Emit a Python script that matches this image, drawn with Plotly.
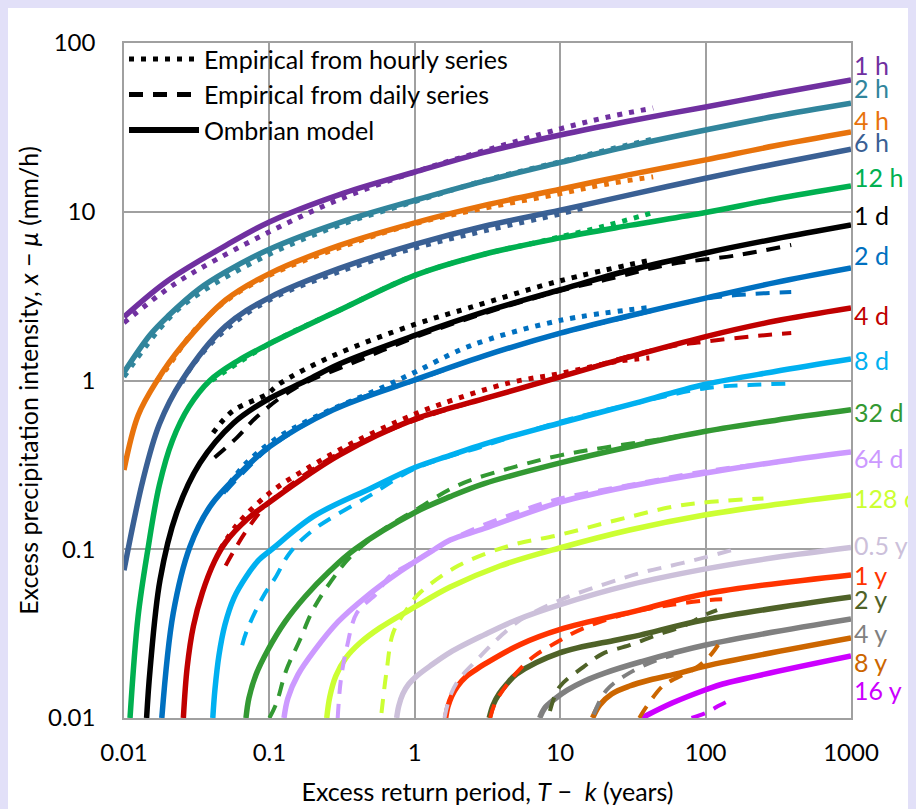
import plotly.graph_objects as go

# ---------------- data ----------------
labels = ["1 h", "2 h", "4 h", "6 h", "12 h", "1 d", "2 d", "4 d", "8 d", "32 d",
          "64 d", "128 d", "0.5 y", "1 y", "2 y", "4 y", "8 y", "16 y"]
colors = ["#7030A0", "#31859C", "#E8730C", "#3A6094", "#00B050", "#000000",
          "#0070C0", "#C00000", "#00B0F0", "#339933", "#CC99FF", "#CCFF33",
          "#CCC0DA", "#FF3300", "#4F6228", "#808080", "#CC6600", "#CC00FF"]

# Ombrian model (solid)
m_1h_x = [0.01, 0.02, 0.05, 0.1, 0.3, 1, 3, 10, 30, 100, 300, 1000]
m_1h_y = [2.38, 3.9, 6.3, 8.7, 12.6, 17.2, 22.5, 28.5, 34.5, 41.8, 50.0, 60.4]
m_2h_x = [0.01, 0.015, 0.02, 0.033, 0.05, 0.1, 0.3, 1, 3, 10, 30, 100, 300, 1000]
m_2h_y = [1.12, 1.85, 2.4, 3.5, 4.4, 6.0, 8.6, 11.7, 15.2, 19.6, 24.5, 30.5, 36.8, 44.0]
m_4h_x = [0.01, 0.0125, 0.0169, 0.025, 0.05, 0.1, 0.3, 1, 3, 10, 30, 100, 300, 1000]
m_4h_y = [0.295, 0.62, 1.0, 1.6, 3.0, 4.3, 6.3, 8.6, 10.9, 13.6, 16.6, 20.3, 24.6, 29.7]
m_6h_x = [0.01, 0.0135, 0.0175, 0.025, 0.05, 0.1, 0.3, 1, 3, 10, 30, 100, 300, 1000]
m_6h_y = [0.075, 0.257, 0.55, 1.0, 2.1, 3.1, 4.6, 6.4, 8.2, 10.2, 12.6, 15.8, 19.2, 23.5]
m_12h_x = [0.011, 0.0125, 0.0146, 0.0175, 0.0215, 0.028, 0.039, 0.06, 0.1, 0.3, 1, 3, 10, 30, 100, 300, 1000]
m_12h_y = [0.01, 0.04, 0.1, 0.24, 0.44, 0.7, 1.0, 1.3, 1.65, 2.6, 4.2, 5.6, 7.0, 8.3, 9.9, 11.9, 14.2]
m_1d_x = [0.0143, 0.0151, 0.0177, 0.023, 0.0333, 0.0565, 0.0957, 0.18, 0.3, 1, 3, 10, 30, 100, 300, 1000]
m_1d_y = [0.01, 0.0192, 0.0659, 0.164, 0.324, 0.558, 0.766, 1.0, 1.25, 1.85, 2.55, 3.45, 4.5, 5.7, 6.9, 8.35]
m_2d_x = [0.0182, 0.0218, 0.0284, 0.039, 0.0627, 0.1, 0.275, 0.973, 3, 10, 30, 100, 300, 1000]
m_2d_y = [0.01, 0.0417, 0.1035, 0.179, 0.282, 0.405, 0.67, 1.0, 1.4, 1.91, 2.42, 3.08, 3.8, 4.64]
m_4d_x = [0.0256, 0.0272, 0.03, 0.0345, 0.042, 0.05, 0.07, 0.1, 0.3, 1, 3, 10, 30, 100, 300, 1000]
m_4d_y = [0.01, 0.02, 0.035, 0.055, 0.085, 0.11, 0.15, 0.19, 0.36, 0.59, 0.78, 1.05, 1.38, 1.82, 2.25, 2.69]
m_8d_x = [0.0408, 0.0422, 0.045, 0.0494, 0.057, 0.069, 0.0847, 0.104, 0.202, 0.5, 1, 1.75, 3, 10, 30, 100, 300, 1000]
m_8d_y = [0.01, 0.0147, 0.0236, 0.0356, 0.0514, 0.0685, 0.0864, 0.1, 0.157, 0.23, 0.305, 0.36, 0.42, 0.56, 0.72, 0.95, 1.13, 1.34]
m_32d_x = [0.069, 0.0723, 0.0807, 0.0976, 0.128, 0.175, 0.26, 0.387, 1, 1.75, 3, 10, 30, 100, 300, 1000]
m_32d_y = [0.01, 0.0131, 0.018, 0.0253, 0.0371, 0.0521, 0.0743, 0.1, 0.165, 0.205, 0.245, 0.325, 0.405, 0.5, 0.58, 0.67]
m_64d_x = [0.126, 0.134, 0.157, 0.2055, 0.296, 0.46, 0.80, 1.37, 1.75, 3, 10, 30, 100, 300, 1000]
m_64d_y = [0.01, 0.0131, 0.018, 0.0253, 0.0371, 0.0521, 0.0743, 0.1, 0.1134, 0.1327, 0.19, 0.236, 0.283, 0.328, 0.377]
m_128d_x = [0.248, 0.26, 0.286, 0.336, 0.419, 0.575, 1, 1.75, 3.84, 9.9, 30, 98, 322, 1000]
m_128d_y = [0.01, 0.0133, 0.0177, 0.0227, 0.0278, 0.0342, 0.0455, 0.0597, 0.0796, 0.1017, 0.13, 0.1596, 0.1854, 0.2097]
m_05y_x = [0.75, 0.776, 0.827, 0.909, 1.03, 1.27, 1.75, 3, 5, 10, 30, 100, 300, 1000]
m_05y_y = [0.01, 0.0118, 0.0139, 0.0159, 0.0177, 0.0203, 0.0245, 0.0311, 0.0381, 0.047, 0.0615, 0.0765, 0.0893, 0.1024]
m_1y_x = [1.63, 1.686, 1.796, 1.975, 2.24, 2.63, 3.03, 5.27, 10, 35, 100, 1000]
m_1y_y = [0.01, 0.0116, 0.0135, 0.0155, 0.0175, 0.0193, 0.0209, 0.0272, 0.0335, 0.0436, 0.0545, 0.0704]
m_2y_x = [3.25, 3.45, 3.8, 4.29, 5.02, 9.9, 24.4, 35.4, 97, 1000]
m_2y_y = [0.01, 0.0119, 0.0139, 0.0159, 0.0182, 0.0243, 0.029, 0.031, 0.0381, 0.0521]
m_4y_x = [7.23, 7.83, 9.17, 11.26, 14.74, 20.2, 35.4, 100, 1000]
m_4y_y = [0.01, 0.01146, 0.01296, 0.01466, 0.01657, 0.01846, 0.02147, 0.0271, 0.0386]
m_8y_x = [16.7, 18.7, 22.6, 30.0, 41.2, 66.3, 100, 1000]
m_8y_y = [0.01, 0.01194, 0.01388, 0.01547, 0.01679, 0.01846, 0.0203, 0.0298]
m_16y_x = [36.3, 59.3, 100, 131, 1000]
m_16y_y = [0.01, 0.0123, 0.0147, 0.0159, 0.0233]

# Empirical from hourly series (dotted)
h_1h_x = [0.01, 0.02, 0.0333, 0.1, 0.3, 1, 3, 10, 20, 43.6]
h_1h_y = [2.2, 3.5, 4.6, 7.6, 11.8, 17.2, 23.0, 31.0, 36.0, 41.2]
h_2h_x = [0.01, 0.02, 0.0333, 0.1, 0.3, 1, 3, 10, 20, 43.6]
h_2h_y = [1.05, 2.3, 3.3, 5.6, 8.3, 11.5, 15.3, 19.8, 23.0, 27.0]
h_4h_x = [0.0169, 0.02, 0.03, 0.05, 0.1, 0.3, 1, 3, 10, 20, 43.6]
h_4h_y = [1.0, 1.2, 1.95, 2.95, 4.2, 6.1, 8.5, 10.5, 12.8, 14.5, 16.1]
h_6h_x = [0.025, 0.03, 0.05, 0.1, 0.3, 1, 3, 10, 15]
h_6h_y = [0.97, 1.25, 2.0, 3.0, 4.4, 6.1, 7.7, 9.7, 10.6]
h_12h_x = [0.04, 0.1, 0.3, 1, 3, 7, 10, 20, 43.6]
h_12h_y = [1.0, 1.65, 2.6, 4.2, 5.6, 6.6, 7.1, 8.2, 9.9]
h_1d_x = [0.041, 0.056, 0.096, 0.118, 0.273, 1, 2.38, 10, 43.6]
h_1d_y = [0.49, 0.66, 0.83, 0.96, 1.4, 2.15, 2.7, 3.9, 5.2]
h_2d_x = [0.048, 0.066, 0.106, 0.2, 0.55, 1, 2.38, 10, 40]
h_2d_y = [0.215, 0.31, 0.44, 0.6, 0.88, 1.12, 1.6, 2.27, 2.7]
h_4d_x = [0.046, 0.06, 0.1, 0.18, 0.36, 0.79, 1.48, 4.5, 10, 25, 41]
h_4d_y = [0.1, 0.14, 0.215, 0.3, 0.42, 0.58, 0.72, 0.97, 1.1, 1.3, 1.36]

# Empirical from daily series (dashed)
d_1d_x = [0.042, 0.06, 0.082, 0.15, 0.4, 1, 3, 10, 24.6, 56, 160, 388]
d_1d_y = [0.35, 0.46, 0.61, 0.9, 1.3, 1.8, 2.5, 3.4, 4.1, 4.87, 5.5, 6.35]
d_2d_x = [0.05, 0.07, 0.1, 0.3, 1, 3, 10, 30, 100, 200, 388]
d_2d_y = [0.22, 0.3, 0.4, 0.7, 1.0, 1.4, 1.9, 2.4, 3.05, 3.25, 3.34]
d_4d_x = [0.05, 0.07, 0.1, 0.3, 1, 3, 10, 30, 60, 100, 200, 388]
d_4d_y = [0.08, 0.13, 0.19, 0.37, 0.58, 0.78, 1.05, 1.4, 1.6, 1.7, 1.82, 1.91]
d_8d_x = [0.065, 0.07, 0.09, 0.11, 0.138, 0.2, 0.5, 1, 3, 10, 30, 100, 200, 388]
d_8d_y = [0.027, 0.033, 0.052, 0.068, 0.095, 0.13, 0.21, 0.3, 0.41, 0.57, 0.72, 0.9, 0.94, 0.96]
d_32d_x = [0.1, 0.112, 0.13, 0.162, 0.2, 0.26, 0.36, 0.6, 1, 2, 5, 10, 20, 50, 100, 200, 388]
d_32d_y = [0.01, 0.0123, 0.019, 0.029, 0.044, 0.063, 0.09, 0.13, 0.17, 0.24, 0.31, 0.36, 0.4, 0.45, 0.5, 0.55, 0.6]
d_64d_x = [0.295, 0.31, 0.34, 0.4, 0.55, 0.67, 1, 2, 5, 10, 30, 100, 388]
d_64d_y = [0.01, 0.0168, 0.026, 0.042, 0.055, 0.069, 0.085, 0.12, 0.165, 0.2, 0.24, 0.29, 0.335]
d_128d_x = [0.59, 0.64, 0.71, 0.88, 1.08, 2, 4.5, 10, 24.6, 70, 250]
d_128d_y = [0.0107, 0.019, 0.032, 0.044, 0.055, 0.08, 0.105, 0.122, 0.149, 0.183, 0.2]
d_05y_x = [1.6, 1.75, 2.0, 2.66, 3.8, 5.3, 10, 20, 37, 70, 160]
d_05y_y = [0.01, 0.0135, 0.0168, 0.022, 0.03, 0.038, 0.05, 0.062, 0.073, 0.083, 0.1]
d_1y_x = [3.3, 3.6, 5, 6.5, 9.4, 14.4, 30, 60, 107, 130]
d_1y_y = [0.01, 0.0125, 0.0185, 0.023, 0.028, 0.034, 0.042, 0.047, 0.05, 0.0505]
d_2y_x = [8.5, 9.9, 14.4, 19.5, 30, 46, 70, 100, 120]
d_2y_y = [0.011, 0.0153, 0.02, 0.024, 0.027, 0.031, 0.035, 0.041, 0.0436]
d_4y_x = [17, 20.8, 30, 46, 60]
d_4y_y = [0.0105, 0.0146, 0.0185, 0.022, 0.0235]
d_8y_x = [35, 39, 50, 57, 87, 110, 125]
d_8y_y = [0.01, 0.0116, 0.0153, 0.0165, 0.02, 0.024, 0.028]
d_16y_x = [80, 100, 125, 140]
d_16y_y = [0.01, 0.0107, 0.0119, 0.0125]

# label vertical positions at the right edge (log10 of y)
label_logy = [1.870, 1.733, 1.544, 1.413, 1.206, 0.981, 0.744, 0.388, 0.121, -0.187,
              -0.459, -0.696, -0.975, -1.153, -1.295, -1.496, -1.668, -1.834]

tick_vals = [0.01, 0.1, 1, 10, 100, 1000]
tick_text = ["0.01", "0.1", "1", "10", "100", "1000"]

# ---------------- figure ----------------
model = [(m_1h_x, m_1h_y), (m_2h_x, m_2h_y), (m_4h_x, m_4h_y), (m_6h_x, m_6h_y),
         (m_12h_x, m_12h_y), (m_1d_x, m_1d_y), (m_2d_x, m_2d_y), (m_4d_x, m_4d_y),
         (m_8d_x, m_8d_y), (m_32d_x, m_32d_y), (m_64d_x, m_64d_y), (m_128d_x, m_128d_y),
         (m_05y_x, m_05y_y), (m_1y_x, m_1y_y), (m_2y_x, m_2y_y), (m_4y_x, m_4y_y),
         (m_8y_x, m_8y_y), (m_16y_x, m_16y_y)]
hourly = {0: (h_1h_x, h_1h_y), 1: (h_2h_x, h_2h_y), 2: (h_4h_x, h_4h_y), 3: (h_6h_x, h_6h_y),
          4: (h_12h_x, h_12h_y), 5: (h_1d_x, h_1d_y), 6: (h_2d_x, h_2d_y), 7: (h_4d_x, h_4d_y)}
daily = {5: (d_1d_x, d_1d_y), 6: (d_2d_x, d_2d_y), 7: (d_4d_x, d_4d_y), 8: (d_8d_x, d_8d_y),
         9: (d_32d_x, d_32d_y), 10: (d_64d_x, d_64d_y), 11: (d_128d_x, d_128d_y),
         12: (d_05y_x, d_05y_y), 13: (d_1y_x, d_1y_y), 14: (d_2y_x, d_2y_y),
         15: (d_4y_x, d_4y_y), 16: (d_8y_x, d_8y_y), 17: (d_16y_x, d_16y_y)}

FONT = "Lato, 'Open Sans', sans-serif"
DOT = "5px,7px"
DASH = "14px,10px"
fig = go.Figure()

for i, (xs, ys) in enumerate(model):
    fig.add_trace(go.Scatter(x=xs, y=ys, mode="lines", showlegend=False, hoverinfo="skip",
                             line=dict(color=colors[i], width=5.5, shape="spline", smoothing=1.0)))
for i, (xs, ys) in daily.items():
    fig.add_trace(go.Scatter(x=xs, y=ys, mode="lines", showlegend=False, hoverinfo="skip",
                             line=dict(color=colors[i], width=4, dash=DASH,
                                       shape="spline", smoothing=1.0)))
for i, (xs, ys) in hourly.items():
    fig.add_trace(go.Scatter(x=xs, y=ys, mode="lines", showlegend=False, hoverinfo="skip",
                             line=dict(color=colors[i], width=5, dash=DOT,
                                       shape="spline", smoothing=1.0)))

# legend entries
fig.add_trace(go.Scatter(x=[None], y=[None], mode="lines", name="Empirical from hourly series",
                         line=dict(color="black", width=5, dash=DOT)))
fig.add_trace(go.Scatter(x=[None], y=[None], mode="lines", name="Empirical from daily series",
                         line=dict(color="black", width=5, dash=DASH)))
fig.add_trace(go.Scatter(x=[None], y=[None], mode="lines", name="Ombrian model",
                         line=dict(color="black", width=6)))

for lab, col, ly in zip(labels, colors, label_logy):
    fig.add_annotation(x=1, xref="paper", y=ly, yref="y",
                       text=lab, showarrow=False, xanchor="left", xshift=1,
                       font=dict(size=25, color=col, family=FONT))

axis_common = dict(type="log", showgrid=True, gridcolor="#A0A0A0", gridwidth=1.5,
                   showline=True, linecolor="#A0A0A0", linewidth=1.5, mirror=True,
                   ticks="", zeroline=False, tickfont=dict(size=24, color="black", family=FONT))
fig.update_xaxes(range=[-2, 3], tickvals=tick_vals, ticktext=tick_text, ticklabelstandoff=12,
                 title=dict(text="Excess return period, <i>T</i> −  <i>k</i> (years)",
                            font=dict(size=25, color="black", family=FONT), standoff=19),
                 **axis_common)
fig.update_yaxes(range=[-2, 2], tickvals=tick_vals[:5], ticktext=tick_text[:5], ticklabelstandoff=22,
                 title=dict(text="Excess precipitation intensity, <i>x</i> − <i>μ</i> (mm/h)",
                            font=dict(size=25, color="black", family=FONT), standoff=2),
                 **axis_common)

fig.update_layout(width=916, height=809, autosize=False,
                  margin=dict(l=116, r=73, t=35, b=99),
                  paper_bgcolor="white", plot_bgcolor="white",
                  font=dict(family=FONT, color="black"),
                  legend=dict(x=0.0, y=1.01, xanchor="left", yanchor="top",
                              bgcolor="rgba(0,0,0,0)", borderwidth=0,
                              font=dict(size=25, color="black", family=FONT),
                              itemwidth=70, tracegroupgap=0))

fig.write_html("out.html", post_script="document.body.style.backgroundColor='#E2E0F8';")
